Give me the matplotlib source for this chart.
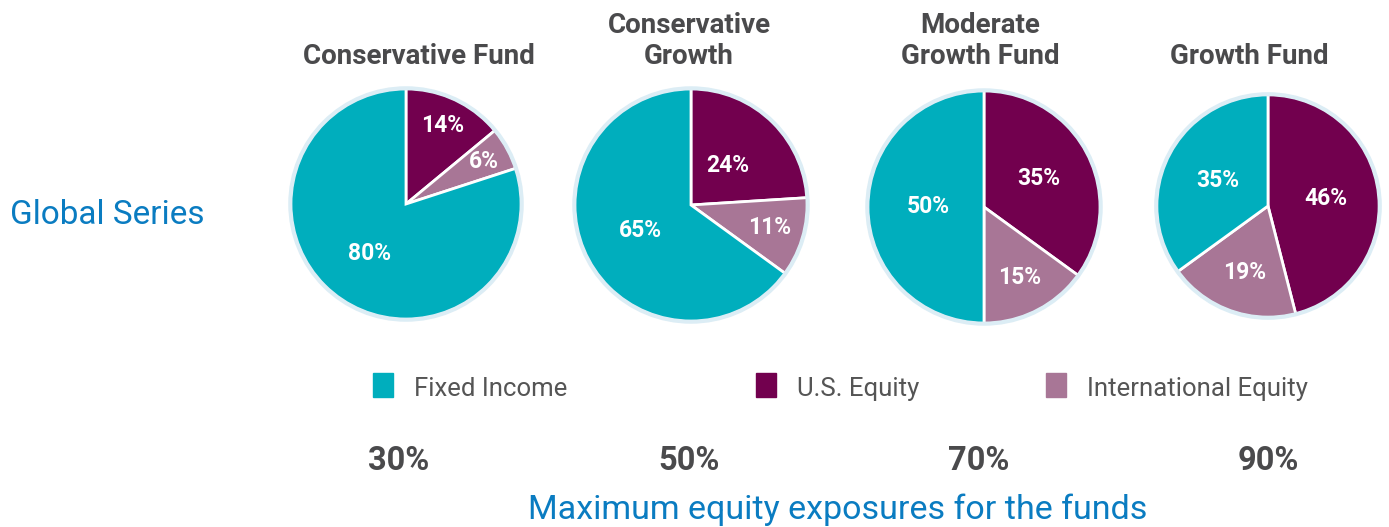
import numpy as np
import matplotlib.pyplot as plt
from matplotlib.patches import Circle

# data
funds = ["Conservative Fund", "Conservative\nGrowth", "Moderate\nGrowth Fund", "Growth Fund"]
us_equity = [14, 24, 35, 46]
intl_equity = [6, 11, 15, 19]
fixed_income = [80, 65, 50, 35]
max_equity = ["30%", "50%", "70%", "90%"]
legend_labels = ["Fixed Income", "U.S. Equity", "International Equity"]

TEAL = "#00aebd"
PLUM = "#72004e"
MAUVE = "#a87696"
GRAY = "#4a4a4c"
BLUE = "#0a7cc1"
colors = [PLUM, MAUVE, TEAL]

W, H = 1389, 527
fig = plt.figure(figsize=(W / 100, H / 100), dpi=100)

# pie centres / radii in pixels (layout)
centres = [(406, 204, 118), (691, 205, 119), (984, 207, 119), (1268, 206, 114)]
label_r = [[0.75, 0.77, 0.53], [0.46, 0.70, 0.49], [0.53, 0.68, 0.48], [0.52, 0.63, 0.50]]
title_x = [419, 689, 980, 1249]

for i in range(4):
    cx, cy, r = centres[i]
    ax = fig.add_axes([(cx - r) / W, (H - cy - r) / H, 2 * r / W, 2 * r / H])
    vals = [us_equity[i], intl_equity[i], fixed_income[i]]
    wedges, _ = ax.pie(vals, colors=colors, startangle=90, counterclock=False,
                       wedgeprops=dict(edgecolor="white", linewidth=2))
    ax.add_patch(Circle((0, 0), 1.0, fill=False, edgecolor="#dcedf5", lw=3, clip_on=False))
    for w, v, lr in zip(wedges, vals, label_r[i]):
        ang = np.deg2rad((w.theta1 + w.theta2) / 2)
        ax.text(lr * np.cos(ang), lr * np.sin(ang), f"{v}%", color="white",
                fontsize=16.5, fontweight="bold", family="Roboto", ha="center", va="center")
    ax.set_xlim(-1.02, 1.02)
    ax.set_ylim(-1.02, 1.02)
    ax.axis("off")

    fig.text(title_x[i] / W, 1 - 64 / H, funds[i], ha="center", va="baseline",
             fontsize=20, fontweight="bold", family="Roboto", color=GRAY, linespacing=1.2)
    fig.text([399, 689, 979, 1268][i] / W, 1 - 461 / H, max_equity[i], ha="center", va="center",
             fontsize=23.5, fontweight="bold", family="Roboto", color=GRAY)

fig.text(10 / W, 1 - 215 / H, "Global Series", ha="left", va="center",
         fontsize=24, family="Roboto", color=BLUE)

# legend
leg_x = [373, 756, 1046]
for lx, lab, c in zip(leg_x, legend_labels, [TEAL, PLUM, MAUVE]):
    fig.patches.append(plt.Rectangle((lx / W, 1 - 397 / H), 20 / W, 24 / H,
                                     transform=fig.transFigure, color=c))
    fig.text((lx + 41) / W, 1 - 389 / H, lab, ha="left", va="center",
             fontsize=18.5, family="Roboto", color="#555555")

fig.text(838 / W, 1 - 510 / H, "Maximum equity exposures for the funds", ha="center",
         va="center", fontsize=24.5, family="Roboto", color=BLUE)

fig.savefig("out.png", dpi=100)
